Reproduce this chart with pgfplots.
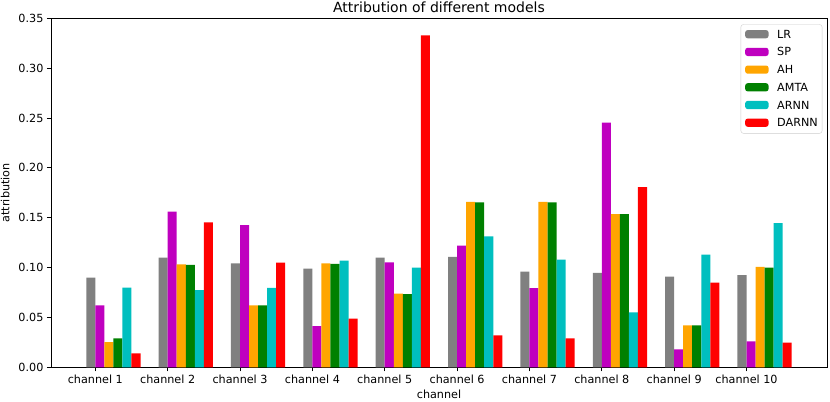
\documentclass[border=0pt]{standalone}
\usepackage{fontspec}
\setmainfont{DejaVu Sans}
\usepackage{pgfplots}
\usepackage{pgfplotstable}
\pgfplotsset{compat=1.18}
\definecolor{cLR}{RGB}{128,128,128}
\definecolor{cSP}{RGB}{191,0,191}
\definecolor{cAH}{RGB}{255,165,0}
\definecolor{cAMTA}{RGB}{0,128,0}
\definecolor{cARNN}{RGB}{0,191,191}
\definecolor{cDARNN}{RGB}{255,0,0}
\pgfplotstableread{
ch LR     SP     AH     AMTA   ARNN   DARNN
0  0.0900 0.0620 0.0253 0.0290 0.0800 0.0140
1  0.1100 0.1560 0.1033 0.1027 0.0773 0.1453
2  0.1043 0.1427 0.0620 0.0620 0.0797 0.1050
3  0.0990 0.0413 0.1043 0.1037 0.1070 0.0487
4  0.1100 0.1053 0.0740 0.0733 0.1000 0.3330
5  0.1107 0.1220 0.1660 0.1653 0.1313 0.0320
6  0.0960 0.0793 0.1660 0.1653 0.1080 0.0290
7  0.0947 0.2453 0.1537 0.1537 0.0550 0.1807
8  0.0910 0.0180 0.0420 0.0420 0.1130 0.0850
9  0.0925 0.0260 0.1007 0.1000 0.1447 0.0247
}\data
\newcommand{\tf}{\fontsize{11.2bp}{13bp}\selectfont}
\begin{document}
\begin{tikzpicture}
\useasboundingbox (-51bp,-34.7bp) rectangle (779bp,367.3bp);
\begin{axis}[
  at={(0,0)}, anchor=south west,
  scale only axis, width=776bp, height=349bp,
  xmin=-0.6125, xmax=10.1125, ymin=0, ymax=0.35,
  xtick={0,1,2,3,4,5,6,7,8,9},
  xticklabels={channel 1,channel 2,channel 3,channel 4,channel 5,channel 6,channel 7,channel 8,channel 9,channel 10},
  ytick={0,0.05,0.10,0.15,0.20,0.25,0.30,0.35},
  yticklabel style={/pgf/number format/.cd, fixed, fixed zerofill, precision=2, assume math mode=true},
  /pgf/number format/assume math mode=true,
  tick align=outside, tick pos=left,
  major tick length=4.1bp,
  every tick/.style={black, line width=0.94bp},
  axis line style={line width=0.94bp},
  tick label style={font=\tf},
  label style={font=\tf},
  title={Attribution of different models},
  every axis title/.style={font=\fontsize{14bp}{16bp}\selectfont, at={(axis description cs:0.5,1.0172)}, anchor=base},
  xlabel={channel},
  xlabel style={at={(axis description cs:0.5,-0.0908)}, anchor=base},
  ylabel={attribution},
  ylabel style={at={(axis description cs:-0.0537,0.5)}, anchor=base},
  legend style={at={(axis description cs:0.99394,0.98281)}, anchor=north east,
    draw=black!20, rounded corners=2.5bp, fill=white, font=\tf,
    inner xsep=4.3bp, inner ysep=5.3bp, row sep=8bp,
    nodes={inner sep=0bp, anchor=base west, text height=8.4bp, text depth=1.3bp}},
  legend image code/.code={\path[#1] (0bp,-0.1bp) rectangle (23.4bp,8.1bp); \path (32bp,0bp);},
]
\addplot[ybar, bar width=0.125, bar shift=0pt, fill=cLR, draw=none] table[x expr=\thisrow{ch}-0.0625, y=LR] {\data};
\addlegendentry{LR}
\addplot[ybar, bar width=0.125, bar shift=0pt, fill=cSP, draw=none] table[x expr=\thisrow{ch}+0.0625, y=SP] {\data};
\addlegendentry{SP}
\addplot[ybar, bar width=0.125, bar shift=0pt, fill=cAH, draw=none] table[x expr=\thisrow{ch}+0.1875, y=AH] {\data};
\addlegendentry{AH}
\addplot[ybar, bar width=0.125, bar shift=0pt, fill=cAMTA, draw=none] table[x expr=\thisrow{ch}+0.3125, y=AMTA] {\data};
\addlegendentry{AMTA}
\addplot[ybar, bar width=0.125, bar shift=0pt, fill=cARNN, draw=none] table[x expr=\thisrow{ch}+0.4375, y=ARNN] {\data};
\addlegendentry{ARNN}
\addplot[ybar, bar width=0.125, bar shift=0pt, fill=cDARNN, draw=none] table[x expr=\thisrow{ch}+0.5625, y=DARNN] {\data};
\addlegendentry{DARNN}
\end{axis}
\end{tikzpicture}
\end{document}
